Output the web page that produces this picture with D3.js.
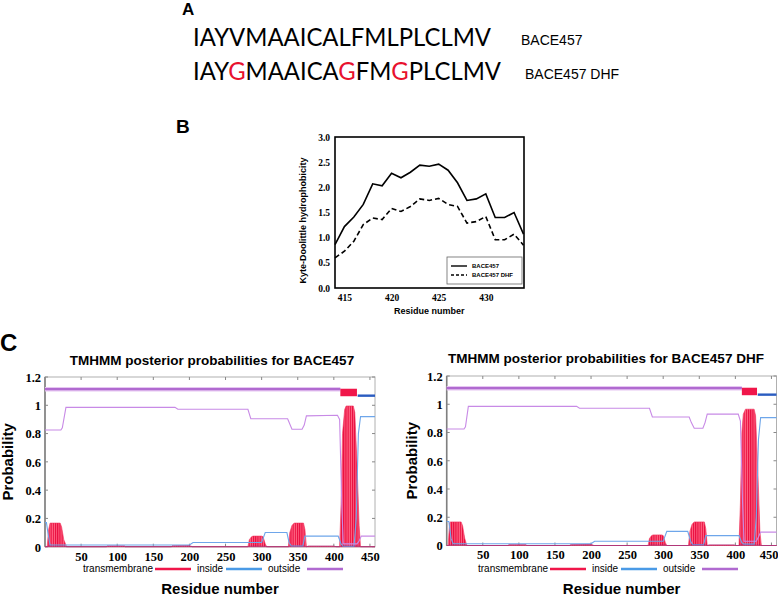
<!DOCTYPE html>
<html><head><meta charset="utf-8">
<script src="https://cdn.jsdelivr.net/npm/d3@7"></script>
<style>body{margin:0;background:#fff}svg{display:block}</style>
</head><body><svg id="c" width="778" height="596"></svg>
<script>
// ---------- Panel A data ----------
const seqWT = "IAYVMAAICALFMLPLCLMV";
const seqDHF = "IAYGMAAICAGFMGPLCLMV";
const seqNames = ["BACE457", "BACE457 DHF"];

// ---------- Panel B data ----------
const kdResidues = [414,415,416,417,418,419,420,421,422,423,424,425,426,427,428,429,430,431,432,433,434];
const kdWT  = [0.86,1.22,1.41,1.66,2.07,2.03,2.28,2.19,2.30,2.44,2.42,2.46,2.34,2.09,1.74,1.77,1.87,1.40,1.40,1.50,1.07];
const kdDHF = [0.60,0.73,0.93,1.26,1.39,1.36,1.58,1.52,1.62,1.77,1.74,1.78,1.66,1.62,1.29,1.32,1.42,0.96,0.96,1.07,0.85];
const kdXTicks = [415,420,425,430];
const kdYTicks = [0,0.5,1,1.5,2,2.5,3];

// ---------- Panel C data (residue, probability) ----------
const tmXTicks = [50,100,150,200,250,300,350,400,450];
const tmYTicks = [0,0.2,0.4,0.6,0.8,1,1.2];

const tmWT = [[0,0],[3,0],[5,0.12],[7,0.167],[21,0.167],[23,0.14],[26,0.05],[30,0],[85,0],[86,0.005],[110,0.005],[111,0],[175,0],[176,0.006],[200,0.008],[204,0],[281,0],[283,0.05],[286,0.07],[288,0.075],[300,0.075],[302,0.07],[305,0.02],[307,0],[337,0],[339,0.1],[342,0.15],[345,0.167],[358,0.167],[360,0.12],[362,0],[365,0.004],[400,0.004],[403,0],[408,0],[410,0.3],[412,0.8],[415,0.97],[417,0.995],[427,0.995],[429,0.95],[432,0.6],[435,0.15],[437,0],[457,0]];
const insideWT = [[0,0.17],[2,0.17],[4,0.1],[7,0.012],[200,0.012],[205,0.03],[300,0.03],[305,0.1],[335,0.1],[338,0.03],[341,0.005],[357,0.005],[360,0.075],[406,0.075],[410,0.02],[413,0.003],[428,0.003],[431,0.2],[434,0.8],[437,0.92],[457,0.92]];
const outsideWT = [[0,0.825],[22,0.825],[24,0.84],[29,0.985],[180,0.985],[184,0.972],[281,0.972],[285,0.905],[336,0.905],[338,0.88],[342,0.83],[356,0.83],[359,0.86],[362,0.925],[405,0.93],[408,0.9],[411,0.3],[413,0.02],[432,0.02],[435,0.04],[438,0.075],[457,0.075]];

const tmDHF = [[0,0],[2,0],[4,0.16],[5,0.167],[20,0.167],[22,0.14],[25,0.05],[28,0],[85,0],[86,0.005],[110,0.005],[111,0],[170,0],[172,0.006],[200,0.008],[204,0],[279,0],[281,0.05],[284,0.07],[286,0.075],[298,0.075],[300,0.07],[303,0.02],[305,0],[335,0],[337,0.1],[340,0.15],[343,0.167],[357,0.167],[359,0.12],[361,0],[364,0.004],[398,0.004],[401,0],[405,0],[407,0.3],[409,0.8],[411,0.93],[414,0.965],[426,0.965],[428,0.92],[431,0.55],[434,0.1],[436,0],[457,0]];
const insideDHF = [[0,0.17],[3,0.17],[6,0.05],[9,0.012],[200,0.012],[205,0.03],[300,0.03],[305,0.1],[334,0.1],[338,0.03],[341,0.005],[356,0.005],[359,0.07],[405,0.07],[409,0.02],[412,0.01],[426,0.01],[429,0.2],[432,0.75],[435,0.905],[457,0.905]];
const outsideDHF = [[0,0.825],[24,0.825],[26,0.84],[30,0.985],[180,0.985],[184,0.972],[281,0.972],[285,0.91],[336,0.91],[339,0.87],[343,0.83],[355,0.83],[358,0.87],[361,0.93],[404,0.93],[407,0.88],[410,0.3],[412,0.03],[429,0.03],[432,0.06],[435,0.095],[457,0.095]];

// topology bar: [type, start, end]
const topoWT  = [["outside",0,409],["tm",409,432],["inside",433,457]];
const topoDHF = [["outside",0,409],["tm",409,430],["inside",431,457]];

const legendItems = ["transmembrane","inside","outside"];

// ---------- drawing ----------
const svg = d3.select("#c");
svg.append("rect").attr("width",778).attr("height",596).attr("fill","#fff");
const SANS = "'Liberation Sans', Arial, sans-serif";
const SERIF = "'Liberation Serif', 'Times New Roman', serif";

// Panel A
svg.append("text").attr("x",182).attr("y",15).attr("font-family",SANS).attr("font-weight","bold").attr("font-size",17).text("A");
const seqFont = "Lato, 'Open Sans', sans-serif";
svg.append("text").attr("x",193).attr("y",46).attr("font-family",seqFont).attr("font-size",25)
  .attr("textLength",298).attr("lengthAdjust","spacingAndGlyphs").text(seqWT);
const t2 = svg.append("text").attr("x",193).attr("y",80).attr("font-family",seqFont).attr("font-size",25)
  .attr("textLength",308).attr("lengthAdjust","spacingAndGlyphs");
seqDHF.split("").forEach((c,i)=>{
  t2.append("tspan").attr("fill", c!==seqWT[i] ? "#e8112d" : "#000").text(c);
});
svg.append("text").attr("x",521).attr("y",45).attr("font-family",SANS).attr("font-size",14).text(seqNames[0]);
svg.append("text").attr("x",525).attr("y",79).attr("font-family",SANS).attr("font-size",14).text(seqNames[1]);

// Panel B
svg.append("text").attr("x",176).attr("y",133).attr("font-family",SANS).attr("font-weight","bold").attr("font-size",19).text("B");
{
  const L=335,R=523.5,T=137,B=288;
  const x = d3.scaleLinear().domain([414,434]).range([L,R]);
  const y = d3.scaleLinear().domain([0,3]).range([B,T]);
  const g = svg.append("g");
  const line = d3.line().x((d,i)=>x(kdResidues[i])).y(d=>y(d));
  g.append("path").attr("d",line(kdWT)).attr("fill","none").attr("stroke","#000").attr("stroke-width",1.6);
  g.append("path").attr("d",line(kdDHF)).attr("fill","none").attr("stroke","#000").attr("stroke-width",1.6).attr("stroke-dasharray","5,3");
  g.append("rect").attr("x",L).attr("y",T).attr("width",R-L+0.5).attr("height",B-T).attr("fill","none").attr("stroke","#000").attr("stroke-width",1.6);
  const xa = g.append("g").attr("transform",`translate(0,${B})`).call(d3.axisBottom(x).tickValues(kdXTicks).tickSize(0).tickPadding(6));
  const ya = g.append("g").attr("transform",`translate(${L},0)`).call(d3.axisLeft(y).tickValues(kdYTicks).tickSize(0).tickPadding(5).tickFormat(d3.format(".1f")));
  [xa,ya].forEach(a=>{a.select(".domain").remove();a.selectAll("text").attr("font-family",SERIF).attr("font-weight","bold").attr("font-size",9.5).attr("fill","#000");});
  g.append("text").attr("transform",`translate(306,${(T+B)/2+8}) rotate(-90)`).attr("text-anchor","middle")
    .attr("font-family",SANS).attr("font-weight","bold").attr("font-size",9).text("Kyte-Doolittle hydrophobicity");
  g.append("text").attr("x",(L+R)/2).attr("y",314).attr("text-anchor","middle")
    .attr("font-family",SANS).attr("font-weight","bold").attr("font-size",9).text("Residue number");
  // legend
  const lg = g.append("g");
  lg.append("rect").attr("x",447).attr("y",257).attr("width",75).attr("height",27).attr("fill","#fff").attr("stroke","#666").attr("stroke-width",0.8);
  [["solid",266,seqNames[0]],["dash",275,seqNames[1]]].forEach(([s,yy,lab])=>{
    lg.append("line").attr("x1",451).attr("x2",467).attr("y1",yy).attr("y2",yy).attr("stroke","#000").attr("stroke-width",1.4)
      .attr("stroke-dasharray", s==="dash"?"3,2":null);
    lg.append("text").attr("x",472).attr("y",yy+2).attr("font-family",SANS).attr("font-weight","bold").attr("font-size",6).text(lab);
  });
}

// Panel C
svg.append("text").attr("x",0).attr("y",351).attr("font-family",SANS).attr("font-weight","bold").attr("font-size",24).text("C");

const defs = svg.append("defs");
const pat = defs.append("pattern").attr("id","stripes").attr("patternUnits","userSpaceOnUse").attr("width",2.2).attr("height",10);
pat.append("rect").attr("width",2.2).attr("height",10).attr("fill","#ff6684");
pat.append("rect").attr("width",1.1).attr("height",10).attr("fill","#e8093c");

function drawTM(o){
  const {L,R,T,B,title,titleX,titleY,ylabX,xlabY,tm,inside,outside,topo,legX,clampLast} = o;
  const x = d3.scaleLinear().domain([0,457]).range([L,R]);
  const y = d3.scaleLinear().domain([0,1.2]).range([B,T]);
  const g = svg.append("g");
  g.append("text").attr("x",titleX).attr("y",titleY).attr("text-anchor","middle").attr("font-family",SANS)
    .attr("font-weight","bold").attr("font-size",13.5).text(title);
  g.append("rect").attr("x",L).attr("y",T).attr("width",R-L).attr("height",B-T).attr("fill","none").attr("stroke","#b0b0b0").attr("stroke-width",1);
  g.append("line").attr("x1",L).attr("x2",L).attr("y1",T).attr("y2",B).attr("stroke","#808080").attr("stroke-width",1.6);
  g.append("line").attr("x1",L).attr("x2",R).attr("y1",B).attr("y2",B).attr("stroke","#909090").attr("stroke-width",1.2);
  tmXTicks.forEach(v=>{
    g.append("line").attr("x1",x(v)).attr("x2",x(v)).attr("y1",T).attr("y2",T+3).attr("stroke","#888");
    g.append("line").attr("x1",x(v)).attr("x2",x(v)).attr("y1",B).attr("y2",B-3).attr("stroke","#888");
  });
  tmYTicks.forEach(v=>{
    g.append("line").attr("x1",R).attr("x2",R-3).attr("y1",y(v)).attr("y2",y(v)).attr("stroke","#888");
    g.append("line").attr("x1",L).attr("x2",L+3).attr("y1",y(v)).attr("y2",y(v)).attr("stroke","#888");
  });
  const xa = g.append("g").attr("transform",`translate(0,${B})`).call(d3.axisBottom(x).tickValues(tmXTicks).tickSize(0).tickPadding(5));
  const ya = g.append("g").attr("transform",`translate(${L},0)`).call(d3.axisLeft(y).tickValues(tmYTicks).tickSize(0).tickPadding(4).tickFormat(d=>String(+d.toFixed(1))));
  [xa,ya].forEach(a=>{a.select(".domain").remove();a.selectAll("text").attr("font-family",SERIF).attr("font-weight","bold").attr("font-size",12.5).attr("fill","#000");});
  ya.selectAll("text").attr("dy","0.35em");
  if(clampLast){
    xa.selectAll(".tick").filter(d=>d===450).select("text").attr("text-anchor","end").attr("x",778-x(450));
  }
  const area = d3.area().x(d=>x(d[0])).y0(y(0)).y1(d=>y(d[1]));
  g.append("path").attr("d",area(tm)).attr("fill","url(#stripes)").attr("stroke","#f0305a").attr("stroke-width",0.6);
  const line = d3.line().x(d=>x(d[0])).y(d=>y(d[1]));
  g.append("path").attr("d",line(inside)).attr("fill","none").attr("stroke","#6ea6ea").attr("stroke-width",1.1);
  g.append("path").attr("d",line(outside)).attr("fill","none").attr("stroke","#c88ae6").attr("stroke-width",1.1);
  g.append("path").attr("d",line(tm.map(d=>[d[0],Math.min(d[1],0.004)]))).attr("fill","none").attr("stroke","#6a2a9a").attr("stroke-width",0.8).attr("opacity",0.5);
  topo.forEach(([type,s,e])=>{
    if(type==="outside"){
      g.append("line").attr("x1",x(s)).attr("x2",x(e)).attr("y1",y(1.114)).attr("y2",y(1.114)).attr("stroke","#e6c6f2").attr("stroke-width",4.5);
      g.append("line").attr("x1",x(s)).attr("x2",x(e)).attr("y1",y(1.114)).attr("y2",y(1.114)).attr("stroke","#b06ad0").attr("stroke-width",2.4);
    } else if(type==="tm"){
      g.append("rect").attr("x",x(s)).attr("y",y(1.117)).attr("width",x(e)-x(s)).attr("height",y(1.064)-y(1.117)).attr("fill","#f0164a");
    } else {
      g.append("line").attr("x1",x(s)).attr("x2",x(e)).attr("y1",y(1.068)).attr("y2",y(1.068)).attr("stroke","#2a5cc0").attr("stroke-width",2.4);
    }
  });
  const cols = ["#f0164a","#4a9ae6","#b06ad0"];
  const ly = 569;
  const widths = [68,25,35];
  let cx = legX;
  legendItems.forEach((lab,i)=>{
    g.append("text").attr("x",cx).attr("y",ly+3).attr("font-family",SANS).attr("font-size",10).text(lab);
    cx += widths[i]+4;
    g.append("line").attr("x1",cx).attr("x2",cx+36).attr("y1",ly).attr("y2",ly).attr("stroke",cols[i]).attr("stroke-width",2.4);
    cx += 36+6;
  });
  g.append("text").attr("transform",`translate(${ylabX},${(T+B)/2}) rotate(-90)`).attr("text-anchor","middle")
    .attr("font-family",SANS).attr("font-weight","bold").attr("font-size",15).text("Probability");
  g.append("text").attr("x",(L+R)/2+10).attr("y",xlabY).attr("text-anchor","middle")
    .attr("font-family",SANS).attr("font-weight","bold").attr("font-size",15).text("Residue number");
}

drawTM({L:45,R:375,T:377,B:546.7,title:"TMHMM posterior probabilities for BACE457",titleX:212,titleY:365,ylabX:13,xlabY:594,
  tm:tmWT,inside:insideWT,outside:outsideWT,topo:topoWT,legX:83,clampLast:false});
drawTM({L:446.7,R:776.5,T:376,B:545.5,title:"TMHMM posterior probabilities for BACE457 DHF",titleX:606,titleY:363,ylabX:417,xlabY:594,
  tm:tmDHF,inside:insideDHF,outside:outsideDHF,topo:topoDHF,legX:478,clampLast:true});
</script></body></html>
